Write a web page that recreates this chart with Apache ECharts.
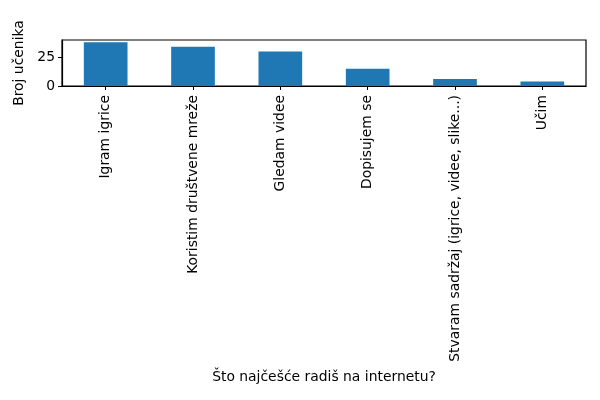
<!DOCTYPE html>
<html>
<head>
<meta charset="utf-8">
<script src="https://cdn.jsdelivr.net/npm/echarts@6/dist/echarts.min.js"></script>
<style>html,body{margin:0;padding:0;background:#fff}#c{width:600px;height:400px}</style>
</head>
<body>
<div id="c"></div>
<script>
const categories = ["Igram igrice", "Koristim društvene mreže", "Gledam videe", "Dopisujem se", "Stvaram sadržaj (igrice, videe, slike...)", "Učim"];
const values = [38, 34, 30, 15, 6, 4];
const yTicks = [0, 25];
const xTitle = "Što najčešće radiš na internetu?";
const yTitle = "Broj učenika";

const font = "DejaVu Sans";
const fs = 13.9;
const chart = echarts.init(document.getElementById('c'), null, {renderer: 'canvas'});
chart.setOption({
  animation: false,
  backgroundColor: '#fff',
  grid: {left: 62, right: 14, top: 40, bottom: 314, containLabel: false, show: true, borderColor: '#000', borderWidth: 1.2, backgroundColor: 'transparent'},
  xAxis: {
    type: 'category',
    data: categories,
    name: xTitle,
    nameLocation: 'middle',
    nameGap: 284,
    nameTextStyle: {fontFamily: font, fontSize: fs, color: '#000'},
    axisLine: {show: true, lineStyle: {color: '#000', width: 1.2}},
    axisTick: {show: true, alignWithLabel: true, length: 4, lineStyle: {color: '#000', width: 1}},
    axisLabel: {rotate: 90, margin: 9, fontFamily: font, fontSize: fs, color: '#000', interval: 0},
    splitLine: {show: false}
  },
  yAxis: {
    type: 'value',
    min: 0,
    max: 39.9,
    interval: 25,
    name: yTitle,
    nameLocation: 'middle',
    nameRotate: 90,
    nameGap: 30,
    nameTextStyle: {fontFamily: font, fontSize: fs, color: '#000'},
    axisLine: {show: true, lineStyle: {color: '#000', width: 1.2}},
    axisTick: {show: true, length: 4, inside: false, customValues: yTicks, lineStyle: {color: '#000', width: 1}},
    axisLabel: {margin: 7, fontFamily: font, fontSize: fs, color: '#000', customValues: yTicks},
    splitLine: {show: false}
  },
  series: [{
    type: 'bar',
    data: values,
    barWidth: '50%',
    itemStyle: {color: '#1f77b4'}
  }]
});
</script>
</body>
</html>
